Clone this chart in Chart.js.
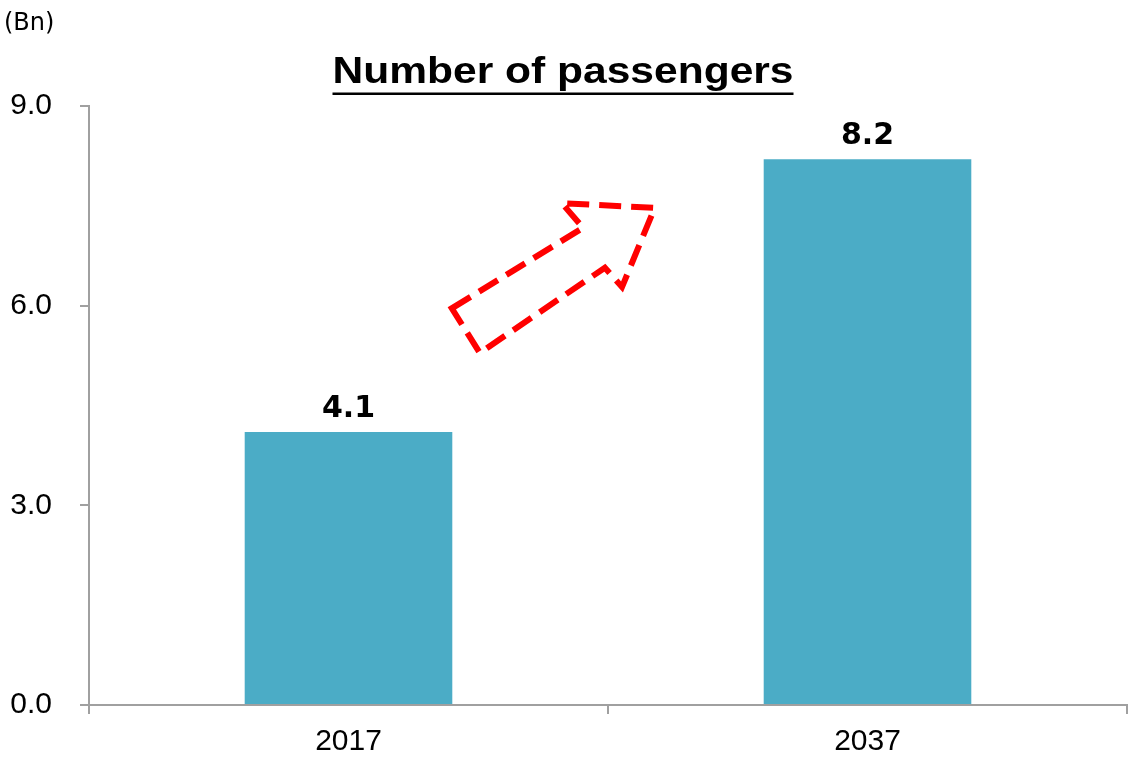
<!DOCTYPE html>
<html lang="en">
<head>
  <meta charset="UTF-8">
  <title>Number of passengers</title>
  <script src="https://cdn.jsdelivr.net/npm/chart.js"></script>
  <style>
    body { margin: 0; background: #fff; }
  </style>
</head>
<body>
  <canvas id="passengerChart" width="1130" height="759"></canvas>

  <script>
    // chart data
    const years = ['2017', '2037'];
    const passengers = [4.1, 8.2];
    const yTicks = [0, 3, 6, 9];

    // dashed arrow outline, in (category index, value) units
    const arrowX = [0.199, 0.452, 0.411, 0.590, 0.527, 0.494, 0.253];
    const arrowY = [5.96, 7.17, 7.54, 7.47, 6.28, 6.57, 5.29];

    const axisGrey = '#a0a0a0';

    const extras = {
      id: 'extras',
      afterDraw(chart) {
        const ctx = chart.ctx;
        const xs = chart.scales.x;
        const ys = chart.scales.y;

        // unit label
        ctx.save();
        ctx.fillStyle = '#000';
        ctx.font = '24px "DejaVu Sans"';
        ctx.textAlign = 'left';
        ctx.textBaseline = 'alphabetic';
        ctx.fillText('(Bn)', 4, 30);

        // title, underlined
        ctx.font = 'bold 36px "Liberation Sans", Arial';
        const title = 'Number of passengers';
        const w = ctx.measureText(title).width;
        const sx = 461 / w;
        ctx.translate(563, 0);
        ctx.scale(sx, 1);
        ctx.textAlign = 'center';
        ctx.fillText(title, 0, 83);
        ctx.fillRect(-w / 2, 92.5, w, 2.5);
        ctx.restore();

        // value labels
        ctx.save();
        ctx.fillStyle = '#000';
        ctx.font = 'bold 30px "DejaVu Sans"';
        ctx.textAlign = 'center';
        ctx.textBaseline = 'alphabetic';
        chart.getDatasetMeta(0).data.forEach((bar, i) => {
          ctx.fillText(passengers[i].toFixed(1), bar.x, bar.y - 15);
        });
        ctx.restore();

        // arrow
        const x0 = xs.getPixelForValue(0);
        const dx = xs.getPixelForValue(1) - x0;
        ctx.save();
        ctx.strokeStyle = '#ff0000';
        ctx.lineWidth = 6;
        ctx.setLineDash([22, 10]);
        ctx.lineJoin = 'miter';
        ctx.beginPath();
        arrowX.forEach((ax, i) => {
          const px = x0 + ax * dx;
          const py = ys.getPixelForValue(arrowY[i]);
          if (i === 0) ctx.moveTo(px, py); else ctx.lineTo(px, py);
        });
        ctx.closePath();
        ctx.stroke();
        ctx.restore();
      }
    };

    new Chart(document.getElementById('passengerChart'), {
      type: 'bar',
      data: {
        labels: years,
        datasets: [{
          data: passengers,
          backgroundColor: '#4BACC6',
          borderWidth: 0,
          barPercentage: 0.4,
          categoryPercentage: 1.0
        }]
      },
      options: {
        responsive: false,
        animation: false,
        layout: { padding: { top: 106, right: 3, left: 0, bottom: 0 } },
        plugins: {
          legend: { display: false },
          tooltip: { enabled: false },
          title: { display: false }
        },
        scales: {
          x: {
            afterFit(scale) { scale.height = 54; },
            grid: {
              offset: true,
              drawOnChartArea: false,
              drawTicks: true,
              tickLength: 9,
              color: axisGrey,
              lineWidth: 2
            },
            border: { color: axisGrey, width: 2 },
            ticks: {
              color: '#000',
              padding: 10,
              font: { family: '"Liberation Sans", Arial', size: 30 }
            }
          },
          y: {
            min: 0,
            max: 9,
            afterFit(scale) { scale.width = 89; },
            afterBuildTicks(scale) { scale.ticks = yTicks.map(v => ({ value: v })); },
            grid: {
              drawOnChartArea: false,
              drawTicks: true,
              tickLength: 9,
              color: axisGrey,
              lineWidth: 2
            },
            border: { color: axisGrey, width: 2 },
            ticks: {
              color: '#000',
              padding: 28,
              font: { family: '"Liberation Sans", Arial', size: 30 },
              callback: (v) => Number(v).toFixed(1)
            }
          }
        }
      },
      plugins: [extras]
    });
  </script>
</body>
</html>
